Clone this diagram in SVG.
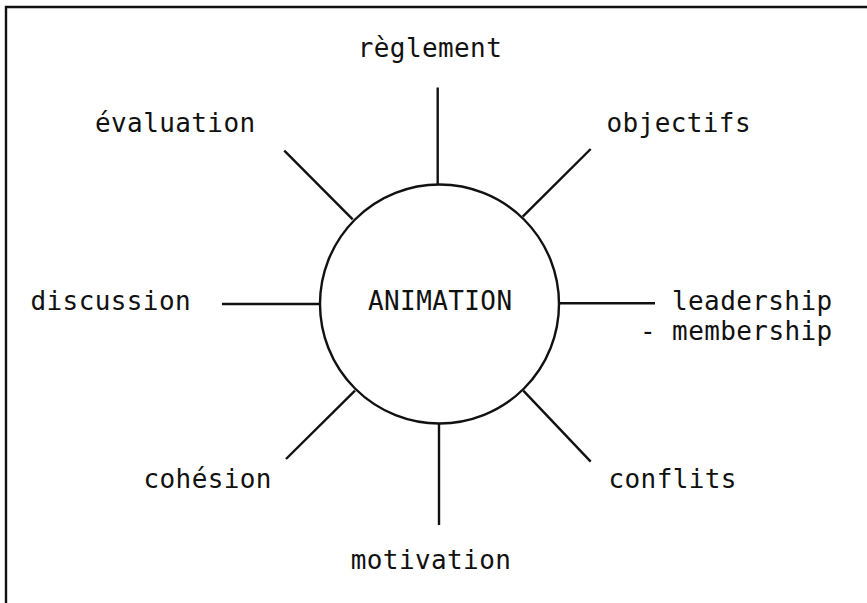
<svg xmlns="http://www.w3.org/2000/svg" width="867" height="603" viewBox="0 0 867 603">
<style>
.t{font-family:"DejaVu Sans Mono","Liberation Mono",monospace;font-size:26px;fill:#111;letter-spacing:0.4px}
.ln{stroke:#111;stroke-width:2.4;fill:none;stroke-linecap:butt}
</style>
<rect width="867" height="603" fill="#fff"/>
<g id="frame">
<line class="ln" x1="5" y1="7" x2="867" y2="7"/>
<line class="ln" x1="6" y1="6" x2="6" y2="603"/>
</g>
<g id="connectors">
<line class="ln" x1="437.7" y1="87.5" x2="437.7" y2="184"/>
<line class="ln" x1="439" y1="424" x2="439" y2="525"/>
<line class="ln" x1="222" y1="304" x2="321" y2="304"/>
<line class="ln" x1="558" y1="303.3" x2="655" y2="303.3"/>
<line class="ln" x1="284.3" y1="150.7" x2="352.7" y2="219.3"/>
<line class="ln" x1="590.7" y1="149" x2="522.7" y2="216.7"/>
<line class="ln" x1="355" y1="390.7" x2="286" y2="459"/>
<line class="ln" x1="523.3" y1="390.7" x2="590.7" y2="461.7"/>
</g>
<g id="animation">
<circle class="ln" cx="439.5" cy="304" r="119.5"/>
<text class="t" x="368" y="310">ANIMATION</text>
</g>
<g id="reglement"><text class="t" x="430" y="57" text-anchor="middle">règlement</text></g>
<g id="evaluation"><text class="t" x="95" y="131.5">évaluation</text></g>
<g id="objectifs"><text class="t" x="606.5" y="131.5">objectifs</text></g>
<g id="discussion"><text class="t" x="30.5" y="310">discussion</text></g>
<g id="leadership"><text class="t" x="672" y="310">leadership</text><text class="t" x="640" y="340">- membership</text></g>
<g id="cohesion"><text class="t" x="143.5" y="488">cohésion</text></g>
<g id="conflits"><text class="t" x="608.5" y="488">conflits</text></g>
<g id="motivation"><text class="t" x="431" y="569" text-anchor="middle">motivation</text></g>
</svg>
